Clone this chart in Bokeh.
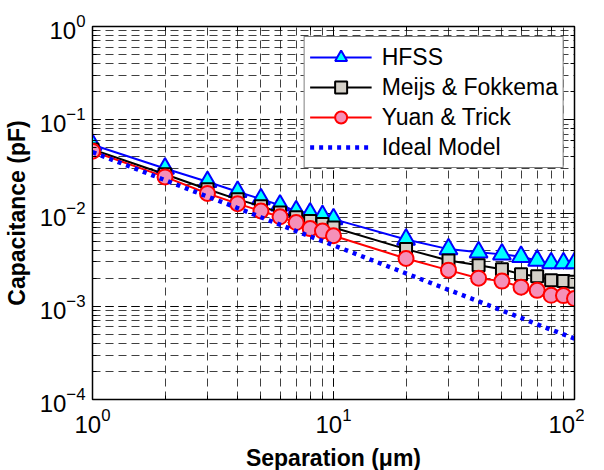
from bokeh.plotting import figure
from bokeh.models import LogAxis, Legend, LegendItem, CustomJSTickFormatter
from bokeh.embed import file_html
from bokeh.resources import INLINE

separation = [1, 2, 3, 4, 5, 6, 7, 8, 9, 10, 20, 30, 40, 50, 60, 70, 80, 90, 100]
hfss = [0.054, 0.030, 0.0216, 0.0169, 0.0141, 0.0121, 0.0105, 0.0099, 0.0093, 0.0086,
        0.0052, 0.0041, 0.0038, 0.0036, 0.0034, 0.0031, 0.0029, 0.0029, 0.0029]
meijs = [0.048, 0.026, 0.018, 0.0140, 0.0118, 0.0101, 0.0090, 0.0082, 0.0076, 0.0070,
         0.0041, 0.0031, 0.00275, 0.0025, 0.0022, 0.0021, 0.0019, 0.00186, 0.00183]
yuan = [0.046, 0.0244, 0.0162, 0.0126, 0.0105, 0.0091, 0.0079, 0.0068, 0.0064, 0.0057,
        0.00325, 0.00244, 0.0020, 0.00186, 0.0016, 0.00148, 0.00131, 0.0013, 0.00121]
ideal = [0.045, 0.0225, 0.015, 0.0113, 0.009, 0.0075, 0.0064, 0.0056, 0.005, 0.0045,
         0.00225, 0.0015, 0.00113, 0.0009, 0.00075, 0.00064, 0.00056, 0.0005, 0.00045]

FONT = "Liberation Sans"

p = figure(frame_width=482, frame_height=373, x_axis_type="log", y_axis_type="log",
           x_range=(1, 100), y_range=(1e-4, 1),
           output_backend="svg", toolbar_location=None,
           min_border_left=87, min_border_top=26, min_border_right=10, min_border_bottom=0)

p.outline_line_color = "black"
p.outline_line_width = 1.5

for ax in (p.xaxis[0], p.yaxis[0]):
    ax.major_label_text_font = FONT
    ax.major_label_text_font_size = "24px"
    ax.major_label_text_color = "black"
    ax.axis_label_text_font = FONT
    ax.axis_label_text_font_size = "23px"
    ax.axis_label_text_font_style = "bold"
    ax.axis_label_text_color = "black"
    ax.major_tick_in = 8
    ax.major_tick_out = 0
    ax.minor_tick_in = 4
    ax.minor_tick_out = 0
    ax.major_tick_line_color = "black"
    ax.minor_tick_line_color = "black"
    ax.axis_line_color = "black"
    ax.major_label_standoff = 8
    ax.axis_label_standoff = 12

p.xaxis.axis_label_standoff = 9
p.yaxis.major_label_standoff = 7
p.yaxis.axis_label_standoff = 7

p.xaxis.axis_label = "Separation (μm)"
p.yaxis.axis_label = "Capacitance (pF)"

for loc in ("above", "right"):
    ax = LogAxis(formatter=CustomJSTickFormatter(code="return '';"),
                 major_label_text_font_size="1px", major_label_text_color=None,
                 major_tick_in=8, major_tick_out=0,
                 minor_tick_in=4, minor_tick_out=0, major_label_standoff=0,
                 major_tick_line_color="black", minor_tick_line_color="black",
                 axis_line_color="black")
    p.add_layout(ax, loc)

for g in (p.xgrid[0], p.ygrid[0]):
    g.grid_line_color = "black"
    g.grid_line_alpha = 0.75
    g.grid_line_dash = "8 5"
    g.minor_grid_line_color = "black"
    g.minor_grid_line_alpha = 0.75
    g.minor_grid_line_dash = "8 5"

l1 = p.line(separation, hfss, line_color="#0000ff", line_width=2)
s1 = p.scatter(separation, hfss, marker="triangle", size=18, fill_color="#00ffff",
               line_color="#0000ff", line_width=2)
l2 = p.line(separation, meijs, line_color="black", line_width=2)
s2 = p.scatter(separation, meijs, marker="square", size=12, fill_color="#d4d0c8",
               line_color="black", line_width=2)
l3 = p.line(separation, yuan, line_color="#ff0000", line_width=2)
s3 = p.scatter(separation, yuan, marker="circle", size=15, fill_color="#f590b8",
               line_color="#ff0000", line_width=2)
l4 = p.line(separation, ideal, line_color="#0000ff", line_width=4.5, line_dash="4 5")

legend = Legend(items=[
    LegendItem(label="HFSS", renderers=[l1, s1]),
    LegendItem(label="Meijs & Fokkema", renderers=[l2, s2]),
    LegendItem(label="Yuan & Trick", renderers=[l3, s3]),
    LegendItem(label="Ideal Model", renderers=[l4]),
], location="top_right")
legend.label_text_font = FONT
legend.label_text_font_size = "23px"
legend.label_text_color = "black"
legend.label_height = 30
legend.glyph_height = 30
legend.glyph_width = 62
legend.label_standoff = 10
legend.spacing = 0
legend.padding = 5
legend.margin = 10
legend.border_line_color = "black"
legend.border_line_width = 1.2
legend.background_fill_alpha = 1
p.add_layout(legend)

open("out.html", "w").write(file_html(p, INLINE))
